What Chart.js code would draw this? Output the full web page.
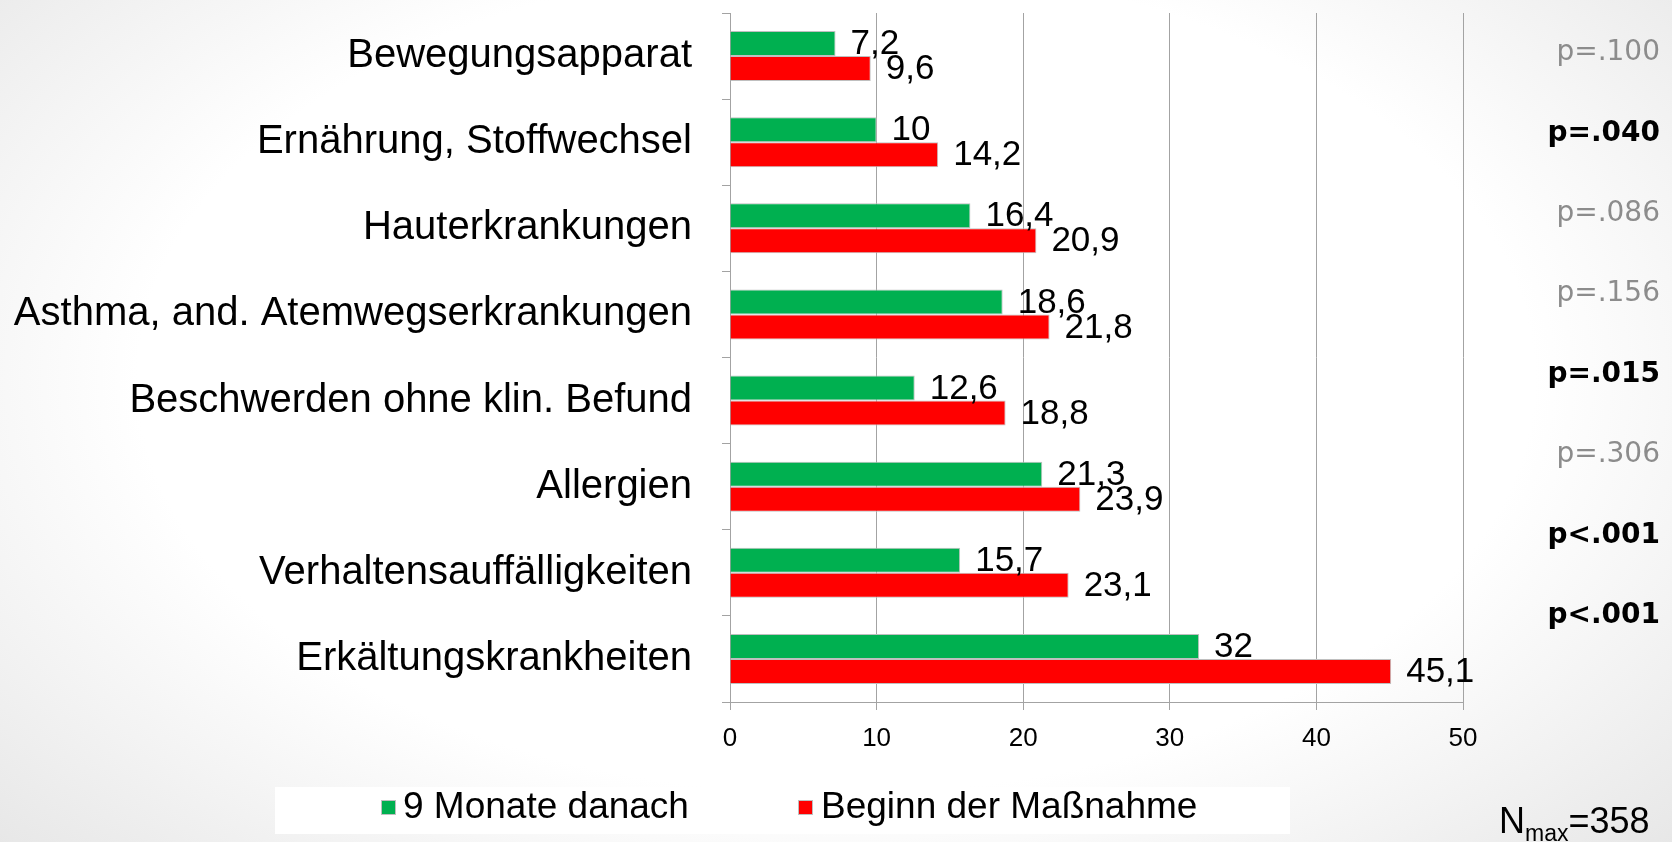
<!DOCTYPE html>
<html lang="de">
<head>
<meta charset="utf-8">
<title>Erkrankungen – Beginn der Maßnahme vs. 9 Monate danach</title>
<script src="https://cdn.jsdelivr.net/npm/chart.js@4.4.1/dist/chart.umd.min.js"></script>
<style>
  html, body { margin: 0; padding: 0; }
  body {
    width: 1672px; height: 842px; overflow: hidden;
    background: radial-gradient(ellipse 72% 85% at 50% 45%, #ffffff 58%, #e4e4e4 100%);
  }
  #wrap { position: relative; width: 1672px; height: 842px; }
</style>
</head>
<body>
<div id="wrap"><canvas id="chart" width="1672" height="842"></canvas></div>
<script>
// Daten
const categories = [
  'Bewegungsapparat',
  'Ernährung, Stoffwechsel',
  'Hauterkrankungen',
  'Asthma, and. Atemwegserkrankungen',
  'Beschwerden ohne klin. Befund',
  'Allergien',
  'Verhaltensauffälligkeiten',
  'Erkältungskrankheiten'
];
const seriesNames = ['9 Monate danach', 'Beginn der Maßnahme'];
const nachNeunMonaten = [7.2, 10, 16.4, 18.6, 12.6, 21.3, 15.7, 32];
const beginnMassnahme = [9.6, 14.2, 20.9, 21.8, 18.8, 23.9, 23.1, 45.1];
const xTicks = [0, 10, 20, 30, 40, 50];
const pValues = ['p=.100', 'p=.040', 'p=.086', 'p=.156', 'p=.015', 'p=.306', 'p<.001', 'p<.001'];
const pSignificant = [false, true, false, false, true, false, true, true];
const nMax = '358';

const GREEN = '#00b050';
const RED = '#ff0000';
const GRID = '#a3a3a3';
const FONT = '"Liberation Sans", Arial, sans-serif';

// Werte an den Balkenenden ("7,2")
const valueLabels = {
  id: 'valueLabels',
  afterDatasetsDraw(chart) {
    const ctx = chart.ctx;
    ctx.save();
    ctx.font = '35px ' + FONT;
    ctx.fillStyle = '#000';
    ctx.textAlign = 'left';
    ctx.textBaseline = 'middle';
    chart.data.datasets.forEach((ds, i) => {
      chart.getDatasetMeta(i).data.forEach((bar, j) => {
        ctx.fillText(String(ds.data[j]).replace('.', ','), bar.x + 15, bar.y + 1);
      });
    });
    ctx.restore();
  }
};

// Legende unten, p-Werte rechts, N_max
const extras = {
  id: 'extras',
  afterDraw(chart) {
    const ctx = chart.ctx;
    ctx.save();

    // Legende
    ctx.fillStyle = '#ffffff';
    ctx.fillRect(275, 787, 1015, 47);
    const items = [
      { box: 381, text: 403, color: GREEN, label: chart.data.datasets[0].label },
      { box: 798, text: 821, color: RED, label: chart.data.datasets[1].label }
    ];
    ctx.font = '37px ' + FONT;
    ctx.textBaseline = 'middle';
    ctx.textAlign = 'left';
    items.forEach(it => {
      ctx.fillStyle = it.color;
      ctx.fillRect(it.box, 800, 15, 15);
      ctx.strokeStyle = '#bfbfbf';
      ctx.lineWidth = 1;
      ctx.strokeRect(it.box + 0.5, 800.5, 14, 14);
      ctx.fillStyle = '#000';
      ctx.fillText(it.label, it.text, 808);
    });

    // p-Werte
    ctx.textAlign = 'right';
    pValues.forEach((p, i) => {
      if (pSignificant[i]) {
        ctx.font = 'bold 28px "DejaVu Sans", sans-serif';
        ctx.fillStyle = '#000';
      } else {
        ctx.font = '28px "DejaVu Sans", sans-serif';
        ctx.fillStyle = '#8c8c8c';
      }
      ctx.fillText(p, 1660, 53 + i * 80.4);
    });

    // N_max=358
    ctx.textAlign = 'left';
    ctx.textBaseline = 'alphabetic';
    ctx.fillStyle = '#000';
    let x = 1499;
    ctx.font = '36px ' + FONT;
    ctx.fillText('N', x, 833);
    x += ctx.measureText('N').width;
    ctx.font = '23px ' + FONT;
    ctx.fillText('max', x, 841);
    x += ctx.measureText('max').width;
    ctx.font = '36px ' + FONT;
    ctx.fillText('=' + nMax, x, 833);

    ctx.restore();
  }
};

new Chart(document.getElementById('chart'), {
  type: 'bar',
  data: {
    labels: categories,
    datasets: [
      { label: seriesNames[0], data: nachNeunMonaten, backgroundColor: GREEN, borderColor: '#bfbfbf', borderWidth: 1 },
      { label: seriesNames[1], data: beginnMassnahme, backgroundColor: RED, borderColor: '#bfbfbf', borderWidth: 1 }
    ]
  },
  options: {
    indexAxis: 'y',
    responsive: false,
    animation: false,
    devicePixelRatio: 1,
    categoryPercentage: 0.58,
    barPercentage: 1.0,
    layout: { padding: { top: 13, right: 209, bottom: 90, left: 0 } },
    plugins: { legend: { display: false }, tooltip: { enabled: false } },
    scales: {
      x: {
        min: 0, max: 50,
        afterBuildTicks: s => { s.ticks = xTicks.map(v => ({ value: v })); },
        afterFit: s => { s.height = 50; s.paddingLeft = 0; s.paddingRight = 0; },
        grid: { color: GRID, tickLength: 8, drawTicks: true },
        border: { color: GRID },
        ticks: { color: '#000', font: { family: FONT, size: 26 }, padding: 13 }
      },
      y: {
        afterFit: s => { s.width = 730; s.paddingTop = 0; s.paddingBottom = 0; },
        grid: { drawOnChartArea: false, color: GRID, tickLength: 8 },
        border: { color: GRID },
        ticks: { color: '#000', font: { family: FONT, size: 40 }, padding: 30 }
      }
    }
  },
  plugins: [valueLabels, extras]
});
</script>
</body>
</html>
